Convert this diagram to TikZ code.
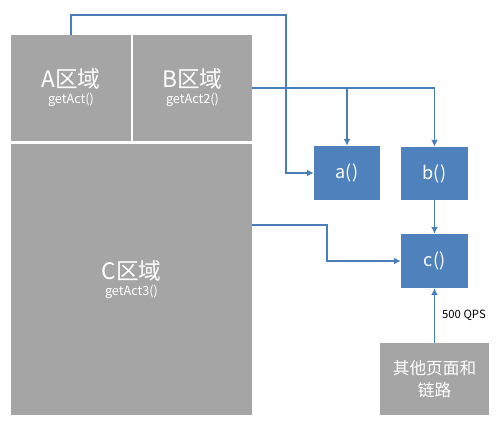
\documentclass[tikz,border=0pt]{standalone}
\usepackage{fontspec}
\setmainfont{Noto Sans CJK SC}
\usepackage{tikz}
\usetikzlibrary{arrows.meta}
\usetikzlibrary{positioning}
\definecolor{areagray}{HTML}{A5A5A5}
\definecolor{funcblue}{HTML}{4F81BD}
\definecolor{linkblue}{HTML}{4A7EBB}
\tikzset{area/.style ={fill=areagray, draw=none, text=white, align=center, inner sep=0pt}}
\tikzset{func/.style ={fill=funcblue, draw=none, text=white, font=\fontsize{13.5}{15}\selectfont, inner sep=0pt}}
\tikzset{link/.style ={draw=linkblue, line width=0.8pt}}
\tikzset{linkto/.style ={link, -{Latex[length=5pt,width=5pt]}}}
\newcommand{\arealabel}[2]{{\fontsize{17}{18}\selectfont #1}\\[0pt]{\fontsize{9.5}{11}\selectfont #2}}

\begin{document}
\begin{tikzpicture}[x=0.75pt,y=-0.75pt]
{
\useasboundingbox (0,0) rectangle (501,427);
% page areas
\node[area, minimum width=90pt, minimum height=79.5pt] (areaA) at (71,88) {\arealabel{A区域}{getAct()}};
\node[area, minimum width=89.25pt, minimum height=79.5pt] (areaB) at (192.5,88) {\arealabel{B区域}{getAct2()}};
\node[area, minimum width=180.75pt, minimum height=203.25pt] (areaC) at (131.5,279.5) {\arealabel{C区域}{getAct3()}};
% functions
\node[func, minimum width=49.5pt, minimum height=40.5pt] (fa) at (347,173) {a()};
\node[func, minimum width=50.25pt, minimum height=40pt] (fb) at (434.5,173.5) {b()};
\node[func, minimum width=50.25pt, minimum height=40.5pt] (fc) at (434.5,261) {c()};
\node[area, minimum width=81.75pt, minimum height=54pt, font=\fontsize{12.5}{17}\selectfont] (other) at (434.5,379) {其他页面和\\链路};
% bends
\coordinate (topA) at (286,15);
\coordinate (splitB) at (fa.north |- areaB.east);
\coordinate (outC) at (252,225);
\coordinate (bendC) at (327,225);
%\draw (0,0) rectangle (501,427);
\draw[linkto] (areaA.north) |- (topA) |- (fa.west);
\draw[linkto] (areaB.east) -| (fb.north);
\draw[linkto] (splitB) -- (fa.north);
\draw[linkto] (outC) -- (bendC) |- (fc.west);
\draw[linkto] (fb.south) -- (fc.north);
\draw[linkto] (other.north) -- node[right=2pt, font=\fontsize{8.5}{10}\selectfont] {500 QPS} (fc.south);
}
\end{tikzpicture}
\end{document}
